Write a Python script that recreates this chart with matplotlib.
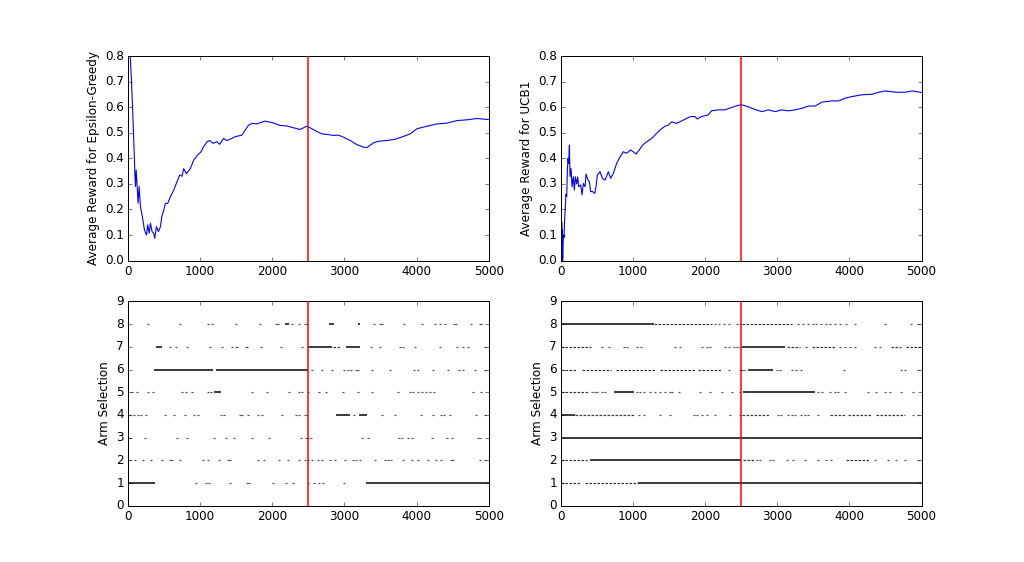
"""Epsilon-Greedy vs UCB1: average reward and arm selection over time."""

import matplotlib
matplotlib.use('Agg')
import matplotlib.pyplot as plt

N_STEPS = 5000
CHANGE_POINT = 2500

# average reward curves (step, reward)
EG_STEPS = [0, 20, 31, 48, 67, 81, 90, 95, 104, 113, 127, 140, 154, 173, 191,
            210, 228, 256, 274, 293, 311, 334, 357, 371, 394, 422, 450, 468,
            496, 519, 551, 588, 634, 680, 717, 749, 772, 809, 864, 910, 966,
            1012, 1049, 1095, 1132, 1178, 1233, 1270, 1325, 1371, 1441, 1487,
            1579, 1625, 1671, 1717, 1786, 1898, 2014, 2106, 2199, 2292, 2384,
            2477, 2523, 2593, 2685, 2778, 2847, 2917, 2986, 3079, 3171, 3264,
            3310, 3403, 3472, 3588, 3704, 3819, 3912, 4005, 4144, 4282, 4421,
            4560, 4699, 4838, 5000]
EG_REWARD = [1.0, 0.9, 0.8, 0.706, 0.57, 0.46, 0.39, 0.34, 0.29, 0.355, 0.29,
             0.224, 0.29, 0.21, 0.185, 0.152, 0.12, 0.10, 0.14, 0.107, 0.146,
             0.113, 0.107, 0.087, 0.133, 0.113, 0.133, 0.172, 0.198, 0.224,
             0.224, 0.25, 0.276, 0.309, 0.335, 0.33, 0.36, 0.34, 0.36, 0.393,
             0.413, 0.426, 0.446, 0.465, 0.47, 0.459, 0.465, 0.455, 0.478,
             0.47, 0.478, 0.485, 0.491, 0.511, 0.53, 0.537, 0.535, 0.546,
             0.539, 0.529, 0.527, 0.52, 0.513, 0.526, 0.52, 0.509, 0.496,
             0.493, 0.49, 0.491, 0.483, 0.47, 0.454, 0.444, 0.442, 0.461,
             0.467, 0.47, 0.475, 0.486, 0.496, 0.516, 0.526, 0.535, 0.538,
             0.548, 0.551, 0.556, 0.552]

UCB_STEPS = [0, 4, 8, 12, 16, 20, 25, 30, 35, 44, 52, 62, 71, 81, 90, 99, 108,
             118, 127, 141, 155, 173, 187, 201, 219, 233, 247, 275, 293, 312,
             335, 349, 376, 395, 413, 441, 469, 487, 506, 543, 575, 612, 635,
             658, 690, 727, 773, 820, 866, 912, 967, 1004, 1041, 1087, 1133,
             1189, 1258, 1304, 1373, 1443, 1489, 1535, 1604, 1697, 1789, 1855,
             1892, 1948, 2041, 2087, 2180, 2273, 2365, 2449, 2505, 2597, 2667,
             2783, 2876, 2968, 3061, 3154, 3247, 3340, 3432, 3525, 3618, 3757,
             3850, 3942, 4035, 4174, 4314, 4406, 4499, 4638, 4777, 4870, 5000]
UCB_REWARD = [0.0, 0.19, 0.0, 0.15, 0.0, 0.12, 0.0, 0.06, 0.1, 0.09, 0.16,
              0.21, 0.26, 0.25, 0.354, 0.40, 0.38, 0.452, 0.328, 0.36, 0.289,
              0.328, 0.276, 0.328, 0.30, 0.328, 0.289, 0.296, 0.257, 0.302,
              0.289, 0.339, 0.315, 0.309, 0.27, 0.27, 0.263, 0.289, 0.335,
              0.348, 0.322, 0.315, 0.331, 0.348, 0.322, 0.341, 0.38, 0.406,
              0.426, 0.42, 0.433, 0.426, 0.417, 0.433, 0.452, 0.465, 0.478,
              0.491, 0.511, 0.526, 0.53, 0.543, 0.537, 0.55, 0.563, 0.564,
              0.554, 0.564, 0.57, 0.586, 0.59, 0.59, 0.599, 0.607, 0.61, 0.602,
              0.594, 0.583, 0.59, 0.583, 0.59, 0.586, 0.59, 0.596, 0.605,
              0.605, 0.62, 0.625, 0.625, 0.636, 0.642, 0.649, 0.651, 0.659,
              0.664, 0.659, 0.659, 0.664, 0.658]

# arm selections: long runs (arm, first step, last step) and single picks
EG_SOLID = [(1, 0, 370), (1, 3295, 5000), (4, 2880, 3077), (4, 3206, 3308),
            (5, 1192, 1283), (6, 365, 1175), (6, 1225, 2500), (7, 385, 468),
            (7, 2500, 2824), (7, 3017, 3216), (8, 2183, 2229),
            (8, 2787, 2860), (8, 3193, 3216)]
EG_DOTTED = [(7, 2846, 2938)]
EG_DOTS = {
    1: [940, 1079, 1125, 1412, 1644, 1681, 2014, 2190, 2292, 2500, 2584,
        2648, 2708, 2999],
    2: [25, 99, 210, 316, 468, 578, 615, 717, 1040, 1113, 1261, 1390, 1408,
        1805, 1884, 2091, 2220, 2368, 2450, 2490, 2556, 2640, 2695, 2801,
        2870, 3009, 3124, 3157, 3216, 3423, 3562, 3608, 3644, 3815, 3930,
        4013, 4161, 4276, 4345, 4483, 4506, 4875, 4945],
    3: [25, 237, 685, 823, 1192, 1353, 1468, 1712, 1952, 2404, 2469, 2492,
        2538, 3248, 3322, 3755, 3801, 3875, 3939, 4207, 4428, 4492, 4852,
        4875],
    4: [25, 85, 145, 177, 256, 514, 639, 791, 915, 975, 1283, 1330, 1546,
        1574, 1667, 1805, 1860, 2137, 2330, 2376, 2450, 2478, 3137, 3524,
        3699, 4059, 4229, 4335, 4381, 4460, 4829, 4945],
    5: [53, 131, 284, 348, 754, 800, 883, 1113, 1145, 1712, 1929, 2238, 2376,
        2413, 2492, 2648, 2741, 2985, 3183, 3377, 3737, 3907, 3953, 4023,
        4069, 4124, 4184, 4244, 4783, 4898],
    6: [2556, 2695, 2833, 2999, 3045, 3091, 3156, 3183, 3377, 3631, 3968,
        4023, 4230, 4437, 4585, 4645, 4806, 4945],
    7: [578, 661, 823, 1131, 1297, 1436, 1491, 1514, 1629, 1652, 1850, 2127,
        2413, 3368, 3493, 3769, 3815, 3976, 4322, 4567, 4645, 4714, 4945],
    8: [284, 717, 1113, 1169, 1491, 1823, 2054, 2081, 2275, 2368, 2450, 2482,
        3409, 3487, 3524, 3829, 4078, 4262, 4322, 4391, 4520, 4552, 4751,
        4875, 4898],
}

UCB_SOLID = [(1, 1070, 5000), (2, 405, 2500), (3, 0, 5000), (4, 0, 200),
             (5, 730, 1010), (5, 2520, 3520), (6, 2587, 2943),
             (7, 2510, 3100), (8, 0, 1290)]
UCB_DOTTED = [(1, 0, 270), (1, 330, 1070), (2, 0, 363), (2, 2520, 2680),
              (2, 3958, 4280), (4, 200, 1030), (4, 2504, 2897),
              (4, 3728, 3958), (4, 3980, 4305), (4, 4374, 4766),
              (5, 0, 385), (6, 0, 210), (6, 290, 700), (6, 760, 1310),
              (6, 1378, 1870), (6, 1900, 2230), (7, 0, 420), (7, 3140, 3310),
              (7, 3480, 3800), (7, 4580, 4720), (7, 4780, 4990),
              (8, 1290, 2100), (8, 2510, 3200)]
UCB_DOTS = {
    2: [2712, 2758, 2897, 2943, 3128, 3220, 3382, 3566, 3681, 3751, 4351,
        4535, 4651, 4766, 4950],
    4: [1078, 1147, 1378, 1517, 1840, 1886, 1955, 2024, 2140, 2347, 2486,
        3012, 3058, 3151, 3197, 3243, 3335, 3382, 3428, 3566, 4881, 4950],
    5: [432, 478, 501, 570, 616, 1055, 1101, 1147, 1239, 1309, 1378, 1447,
        1517, 1540, 1632, 1932, 2070, 2232, 2370, 2486, 3566, 3621, 3727,
        3797, 3843, 3935, 4258, 4374, 4489, 4558, 4720, 4881],
    6: [2324, 2486, 2504, 2540, 2989, 3035, 3197, 3266, 3335, 3925, 4720,
        4766, 4950],
    7: [570, 662, 870, 917, 1055, 1115, 1586, 1655, 1956, 2025, 2070, 2278,
        2324, 2393, 2440, 2486, 3404, 3866, 3935, 4004, 4073, 4350, 4420],
    8: [2131, 2186, 2255, 2324, 2440, 2486, 3290, 3360, 3428, 3497, 3543,
        3612, 3668, 3728, 3797, 3866, 3958, 4083, 4489, 4858, 4950],
}


def change_line(ax):
    ax.axvline(CHANGE_POINT, color='#ff0000', lw=1.5, zorder=5)


def reward_panel(ax, steps, reward, label):
    ax.plot(steps, reward, color='b', lw=1.1)
    change_line(ax)
    ax.set_xlim(0, N_STEPS)
    ax.set_ylim(0, 0.8)
    ax.set_ylabel(label)


def arm_panel(ax, solid, dotted, dots):
    for arm, start, end in solid:
        ax.hlines(arm, start, end, colors='k', lw=1.5)
    for arm, start, end in dotted:
        ax.hlines(arm, start, end, colors='0.2', lw=1.2,
                  linestyles=(0, (2.5, 1.5)))
    for arm, xs in dots.items():
        ax.plot(xs, [arm] * len(xs), ls='none', marker='_', ms=2.5, mew=1.2,
                color='0.3')
    change_line(ax)
    ax.set_xlim(0, N_STEPS)
    ax.set_ylim(0, 9)
    ax.set_yticks(range(10))
    ax.set_ylabel('Arm Selection')


def main():
    plt.style.use('classic')
    fig, axes = plt.subplots(2, 2, figsize=(1024 / 72, 562 / 72), dpi=72)
    fig.patch.set_facecolor('white')
    reward_panel(axes[0, 0], EG_STEPS, EG_REWARD,
                 'Average Reward for Epsilon-Greedy')
    reward_panel(axes[0, 1], UCB_STEPS, UCB_REWARD, 'Average Reward for UCB1')
    arm_panel(axes[1, 0], EG_SOLID, EG_DOTTED, EG_DOTS)
    arm_panel(axes[1, 1], UCB_SOLID, UCB_DOTTED, UCB_DOTS)
    fig.savefig('out.png', dpi=72, facecolor='white')


if __name__ == '__main__':
    main()
